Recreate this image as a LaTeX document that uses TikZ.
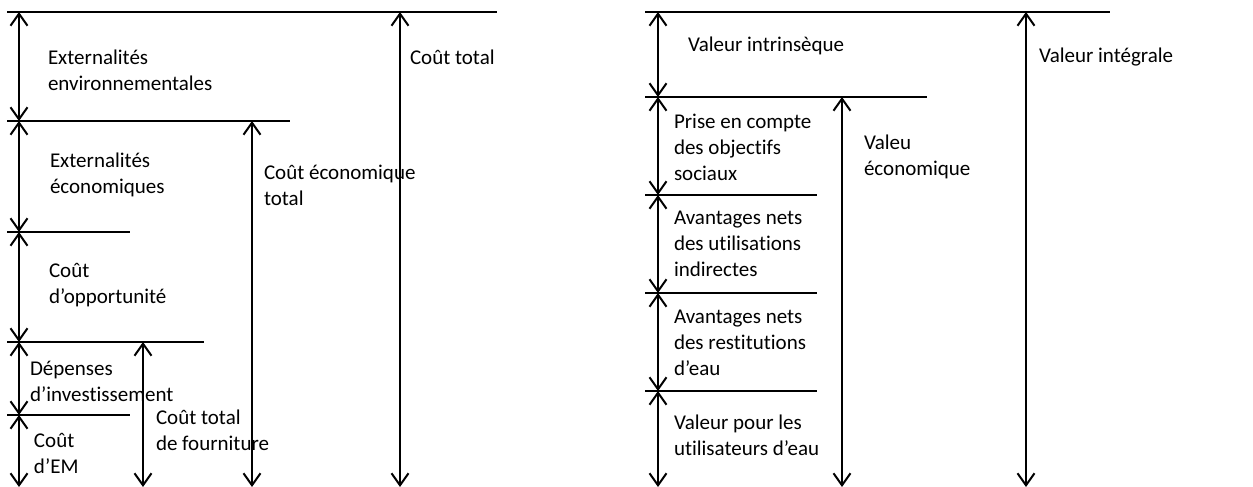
\documentclass[tikz,border=0pt]{standalone}
\usepackage{fontspec}
\setmainfont{Carlito}[Ligatures=NoCommon]
\usetikzlibrary{arrows.meta}

\begin{document}
\begin{tikzpicture}[x=1pt, y=-1pt, line width=2pt,
    >={Straight Barb[length=12pt,width=17pt]},
    lbl/.style={anchor=base west, align=left, inner sep=0pt,
                font=\fontsize{21}{26}\selectfont}]
    \useasboundingbox (0,0) rectangle (1253,487);

    % left scale: costs
    \coordinate (c0) at (19,12);
    \coordinate (c1) at (19,121);
    \coordinate (c2) at (19,232);
    \coordinate (c3) at (19,342);
    \coordinate (c4) at (19,415);
    \coordinate (c5) at (19,487);
    \coordinate (f0) at (143,342);
    \coordinate (f1) at (143,487);
    \coordinate (e0) at (252,121);
    \coordinate (e1) at (252,487);
    \coordinate (t0) at (400,12);
    \coordinate (t1) at (400,487);

    \draw ([xshift=-12pt]c0) -- ++(490,0);
    \draw ([xshift=-12pt]c1) -- ++(283,0);
    \draw ([xshift=-12pt]c2) -- ++(123,0);
    \draw ([xshift=-12pt]c3) -- ++(197,0);
    \draw ([xshift=-12pt]c4) -- ++(123,0);

    \foreach \a/\b in {c0/c1, c1/c2, c2/c3, c3/c4, c4/c5, f0/f1, e0/e1, t0/t1}
        \draw[<->] (\a) -- (\b);

    \node[lbl] (extenv) at (47,90) {Externalités\\environnementales};
    \node[lbl] (exteco) at (49,193) {Externalités\\économiques};
    \node[lbl] (opp) at (48,303) {Coût\\d’opportunité};
    \node[lbl] (inv) at (29,401) {Dépenses\\d’investissement};
    \node[lbl] (em) at (33,473) {Coût\\d’EM};
    \node[lbl] (fourn) at (155,450) {Coût total\\de fourniture};
    \node[lbl] (ecotot) at (263,205) {Coût économique\\total};
    \node[lbl] (tot) at (409,64) {Coût total};

    % right scale: values
    \coordinate (v0) at (658,12);
    \coordinate (v1) at (658,97);
    \coordinate (v2) at (658,195);
    \coordinate (v3) at (658,293);
    \coordinate (v4) at (658,391);
    \coordinate (v5) at (658,487);
    \coordinate (w0) at (842,97);
    \coordinate (w1) at (842,487);
    \coordinate (i0) at (1026,12);
    \coordinate (i1) at (1026,487);

    \draw ([xshift=-13pt]v0) -- ++(465,0);
    \draw ([xshift=-13pt]v1) -- ++(282,0);
    \draw ([xshift=-13pt]v2) -- ++(172,0);
    \draw ([xshift=-13pt]v3) -- ++(172,0);
    \draw ([xshift=-13pt]v4) -- ++(172,0);

    \foreach \a/\b in {v0/v1, v1/v2, v2/v3, v3/v4, v4/v5, w0/w1, i0/i1}
        \draw[<->] (\a) -- (\b);

    \node[lbl] (intr) at (687,52) {Valeur intrinsèque};
    \node[lbl] (soc) at (673,180) {Prise en compte\\des objectifs\\sociaux};
    \node[lbl] (indir) at (673,276) {Avantages nets\\des utilisations\\indirectes};
    \node[lbl] (restit) at (673,375) {Avantages nets\\des restitutions\\d’eau};
    \node[lbl] (users) at (673,455) {Valeur pour les\\utilisateurs d’eau};
    \node[lbl] (valeco) at (863,175) {Valeu\\économique};
    \node[lbl] (integ) at (1038,63) {Valeur intégrale};
\end{tikzpicture}
\end{document}
